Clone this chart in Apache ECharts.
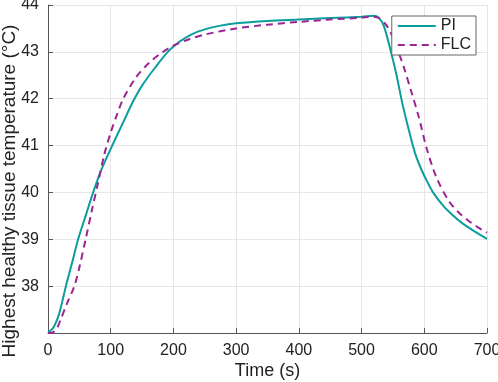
<!DOCTYPE html>
<html>
<head>
<meta charset="utf-8">
<script src="https://cdn.jsdelivr.net/npm/echarts@6/dist/echarts.min.js"></script>
<style>
  html, body { margin: 0; padding: 0; background: #fff; }
  #chart { width: 498px; height: 382px; }
</style>
</head>
<body>
<div id="chart"></div>
<script>
// PI curve (time in s, temperature in °C)
var piTime = [0, 5, 10, 15, 20, 25, 30, 40, 48, 60, 72, 85, 100, 120, 136, 150, 170, 191, 210, 230, 250, 275, 300, 350, 400, 450, 500, 520, 527, 535, 545, 555, 565, 575, 585, 595, 605, 615, 630, 645, 660, 680, 700];
var piTemp = [37.02, 37.06, 37.15, 37.3, 37.52, 37.8, 38.08, 38.58, 39.0, 39.5, 40.0, 40.48, 40.93, 41.5, 41.95, 42.28, 42.65, 43.0, 43.22, 43.38, 43.48, 43.56, 43.61, 43.66, 43.69, 43.72, 43.75, 43.77, 43.73, 43.57, 43.1, 42.55, 41.9, 41.35, 40.85, 40.5, 40.22, 39.98, 39.72, 39.52, 39.35, 39.17, 39.01];

// FLC curve
var flcTime = [0, 5, 10, 15, 20, 30, 42, 50, 60, 70, 80, 90, 100, 110, 120, 140, 160, 180, 200, 225, 250, 300, 350, 400, 450, 500, 515, 525, 537, 545, 553, 560, 567, 580, 591, 604, 620, 640, 655, 670, 685, 700];
var flcTemp = [37.0, 37.0, 37.03, 37.12, 37.28, 37.62, 38.0, 38.4, 39.0, 39.62, 40.22, 40.82, 41.28, 41.66, 42.0, 42.45, 42.75, 42.97, 43.13, 43.27, 43.37, 43.5, 43.58, 43.64, 43.69, 43.73, 43.75, 43.74, 43.61, 43.45, 43.2, 42.95, 42.69, 42.12, 41.62, 40.93, 40.3, 39.8, 39.57, 39.4, 39.26, 39.14];

var xTicks = [0, 100, 200, 300, 400, 500, 600, 700];
var yTicks = [38, 39, 40, 41, 42, 43, 44];

function pairs(xs, ys) {
  var out = [];
  for (var i = 0; i < xs.length; i++) out.push([xs[i], ys[i]]);
  return out;
}

var chart = echarts.init(document.getElementById('chart'));
var font = 'Liberation Sans, Arial, Helvetica, sans-serif';

var option = {
  animation: false,
  textStyle: { fontFamily: font },
  grid: { left: 48, right: 11, top: 5, bottom: 49, containLabel: false, outerBoundsMode: 'none' },
  legend: {
    orient: 'vertical',
    right: 22,
    top: 16,
    padding: [2, 5, 2, 5],
    itemGap: 3,
    itemWidth: 38,
    itemHeight: 14,
    backgroundColor: '#fff',
    borderColor: '#666',
    borderWidth: 1,
    itemStyle: { opacity: 0 },
    textStyle: { fontSize: 16, color: '#222', fontFamily: font },
    data: ['PI', 'FLC']
  },
  xAxis: {
    type: 'value',
    min: 0,
    max: 700,
    interval: 100,
    name: 'Time (s)',
    nameLocation: 'middle',
    nameGap: 29,
    nameMoveOverlap: false,
    nameTextStyle: { fontSize: 18, color: '#222' },
    axisLine: { show: true, lineStyle: { color: '#555', width: 1 } },
    axisTick: { show: true, inside: true, length: 5, lineStyle: { color: '#555' } },
    axisLabel: {
      fontSize: 16, color: '#222', margin: 10,
      formatter: function (v) { return xTicks.indexOf(v) >= 0 ? String(v) : ''; }
    },
    splitLine: { show: true, lineStyle: { color: '#e6e6e6', width: 1 } }
  },
  yAxis: {
    type: 'value',
    min: 37,
    max: 44,
    interval: 1,
    name: 'Highest healthy tissue temperature (°C)',
    nameLocation: 'middle',
    nameGap: 29,
    nameMoveOverlap: false,
    nameTextStyle: { fontSize: 19, color: '#222', padding: [0, 44, 0, 0] },
    axisLine: { show: true, lineStyle: { color: '#555', width: 1 } },
    axisTick: { show: true, inside: true, length: 5, lineStyle: { color: '#555' } },
    axisLabel: {
      fontSize: 16, color: '#222', margin: 9,
      formatter: function (v) { return yTicks.indexOf(v) >= 0 ? String(v) : ''; }
    },
    splitLine: { show: true, lineStyle: { color: '#e6e6e6', width: 1 } }
  },
  series: [
    {
      name: 'PI',
      type: 'line',
      smooth: 0.3,
      symbol: 'none',
      color: '#0a9e9c',
      lineStyle: { color: '#0a9e9c', width: 2 },
      data: pairs(piTime, piTemp)
    },
    {
      name: 'FLC',
      type: 'line',
      smooth: 0.3,
      symbol: 'none',
      color: '#9b2592',
      lineStyle: { color: '#9b2592', width: 2, type: [7, 5] },
      data: pairs(flcTime, flcTemp)
    }
  ]
};

chart.setOption(option);
</script>
</body>
</html>
